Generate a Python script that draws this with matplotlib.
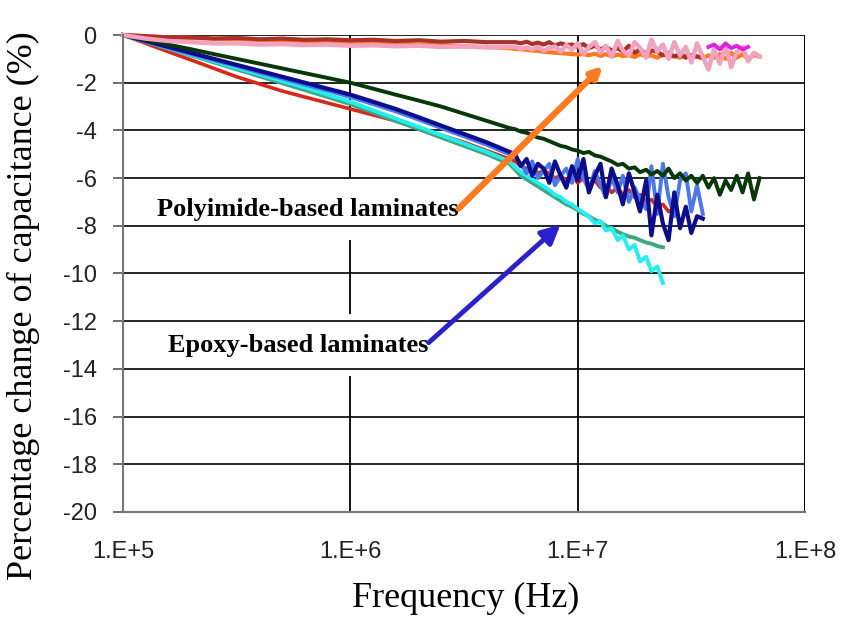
import matplotlib
matplotlib.use("Agg")
import matplotlib.pyplot as plt
from matplotlib.ticker import FixedLocator, NullLocator

plt.rcParams["axes.unicode_minus"] = False

# frequency grids (Hz): coarse below 5 MHz, finer above where the traces get noisy
FREQ_LO = [1.00e5, 1.26e5, 1.58e5, 2.00e5, 2.51e5, 3.16e5, 3.98e5, 5.01e5, 6.31e5,
           7.94e5, 1.00e6, 1.26e6, 1.58e6, 2.00e6, 2.51e6, 3.16e6, 3.98e6, 5.01e6]
FREQ_HI = [5.31e6, 5.62e6, 5.96e6, 6.31e6, 6.68e6, 7.08e6, 7.50e6, 7.94e6, 8.41e6,
           8.91e6, 9.44e6, 1.00e7, 1.06e7, 1.12e7, 1.19e7, 1.26e7, 1.33e7, 1.41e7,
           1.50e7, 1.58e7, 1.68e7, 1.78e7, 1.88e7, 2.00e7, 2.11e7, 2.24e7, 2.37e7,
           2.51e7, 2.66e7, 2.82e7, 2.99e7, 3.16e7, 3.35e7, 3.55e7, 3.76e7, 3.98e7,
           4.22e7, 4.47e7, 4.73e7, 5.01e7, 5.31e7, 5.62e7, 5.96e7, 6.31e7]

# --- epoxy-based laminates (% change of capacitance) ---
red_lo = [0, -0.35, -0.7, -1.05, -1.4, -1.75, -2.05, -2.35, -2.6, -2.85, -3.1, -3.35,
          -3.6, -3.9, -4.2, -4.5, -4.85, -5.2]
red_hi = [-5.3, -5.5, -5.6, -5.5, -5.8, -5.7, -5.8, -6.0, -5.9, -6.1, -5.9, -6.2, -6.0,
          -6.3, -6.1, -6.4, -6.3, -6.6, -6.4, -6.7, -6.5, -6.8, -6.7, -7.0, -6.9, -7.2,
          -7.1, -7.4, -7.3]

teal_lo = [0, -0.28, -0.57, -0.86, -1.15, -1.44, -1.73, -2.02, -2.31, -2.6, -2.9, -3.25,
           -3.6, -3.95, -4.3, -4.65, -5.0, -5.4]
teal_hi = [-5.65, -5.9, -6.05, -6.2, -6.35, -6.5, -6.65, -6.8, -6.95, -7.1, -7.2, -7.35,
           -7.5, -7.6, -7.75, -7.85, -8.0, -8.1, -8.25, -8.35, -8.45, -8.5, -8.6, -8.7,
           -8.75, -8.85, -8.9]

cyan_lo = [0, -0.27, -0.55, -0.83, -1.1, -1.38, -1.65, -1.93, -2.2, -2.5, -2.8, -3.15,
           -3.5, -3.85, -4.2, -4.55, -4.9, -5.3]
cyan_hi = [-5.55, -5.75, -5.9, -6.05, -6.2, -6.35, -6.5, -6.7, -6.8, -7.0, -7.1, -7.3,
           -7.45, -7.6, -7.9, -7.8, -8.2, -8.1, -8.6, -8.4, -9.0, -8.8, -9.5, -9.3, -9.9,
           -9.7, -10.4]

royal_lo = [0, -0.27, -0.53, -0.8, -1.05, -1.3, -1.57, -1.82, -2.08, -2.33, -2.6, -2.9,
            -3.2, -3.55, -3.9, -4.25, -4.6, -5.0]
royal_hi = [-5.1, -5.4, -5.8, -5.3, -6.0, -5.7, -5.4, -6.3, -5.9, -5.6, -6.2, -5.2, -6.0,
            -6.5, -5.7, -6.3, -6.8, -6.0, -6.6, -5.9, -7.0, -6.4, -6.9, -7.3, -5.5, -7.5,
            -5.4, -6.8, -7.6, -6.1, -5.8, -7.4, -6.3, -7.5]

navy_lo = [0, -0.25, -0.5, -0.75, -1.0, -1.25, -1.5, -1.75, -2.0, -2.25, -2.5, -2.8,
           -3.1, -3.45, -3.8, -4.15, -4.5, -4.9]
navy_hi = [-5.0, -5.5, -5.2, -5.9, -5.4, -5.6, -6.2, -5.3, -5.9, -6.4, -5.5, -6.1, -5.2,
           -6.6, -5.9, -5.4, -6.8, -5.6, -6.3, -7.1, -5.8, -6.6, -7.4, -6.1, -8.4, -6.7,
           -7.9, -8.6, -6.6, -8.1, -7.2, -8.3, -7.6, -7.7]

dkgreen_lo = [0, -0.2, -0.4, -0.6, -0.8, -1.0, -1.2, -1.4, -1.6, -1.8, -2.0, -2.25,
              -2.5, -2.75, -3.0, -3.3, -3.6, -3.9]
dkgreen_hi = [-3.95, -4.05, -4.1, -4.2, -4.3, -4.35, -4.45, -4.55, -4.65, -4.7, -4.8,
              -4.85, -4.95, -4.9, -5.05, -5.1, -5.2, -5.3, -5.45, -5.4, -5.6, -5.55,
              -5.75, -5.65, -5.85, -5.7, -5.9, -5.6, -6.0, -5.8, -6.1, -5.9, -6.2, -5.9,
              -6.4, -6.0, -6.7, -6.1, -6.5, -5.9, -6.6, -5.8, -6.9, -6.0]

# --- polyimide-based laminates ---
orange_lo = [0, -0.05, -0.1, -0.12, -0.15, -0.18, -0.2, -0.22, -0.25, -0.27, -0.3, -0.33,
             -0.36, -0.4, -0.43, -0.47, -0.5, -0.55]
orange_hi = [-0.58, -0.6, -0.62, -0.65, -0.67, -0.7, -0.72, -0.74, -0.76, -0.78, -0.8,
             -0.82, -0.8, -0.85, -0.78, -0.88, -0.8, -0.9, -0.82, -0.88, -0.85, -0.92,
             -0.8, -0.9, -0.85, -0.95, -0.82, -0.9, -0.88, -0.95, -0.85, -0.92, -0.9,
             -0.98, -0.85, -0.95, -0.8, -1.0, -0.75, -0.95, -0.8, -1.0, -0.85, -0.9]

brown_lo = [0, -0.05, -0.1, -0.1, -0.15, -0.12, -0.18, -0.15, -0.2, -0.18, -0.22, -0.2,
            -0.25, -0.22, -0.28, -0.25, -0.3, -0.3]
brown_hi = [-0.3, -0.35, -0.28, -0.38, -0.32, -0.4, -0.3, -0.45, -0.35, -0.42, -0.4, -0.5,
            -0.38, -0.55, -0.45, -0.6, -0.5, -0.65, -0.55, -0.7, -0.45, -0.75, -0.6, -0.8,
            -0.65, -0.7, -0.85, -0.75, -0.9, -0.8, -0.95, -0.85, -0.9, -0.95]

pink_lo = [0, -0.15, -0.25, -0.3, -0.35, -0.35, -0.4, -0.38, -0.42, -0.4, -0.45, -0.43,
           -0.47, -0.45, -0.5, -0.48, -0.52, -0.5]
pink_hi = [-0.5, -0.58, -0.52, -0.6, -0.5, -0.66, -0.55, -0.48, -0.7, -0.42, -0.62, -0.35,
           -0.8, -0.5, -0.3, -0.75, -0.45, -0.9, -0.25, -0.65, -0.85, -0.3, -0.55, -0.95,
           -0.2, -0.7, -0.4, -1.0, -0.3, -0.85, -0.5, -1.15, -0.35, -0.9, -1.45, -0.6,
           -1.2, -0.45, -1.35, -0.7, -0.5, -1.1, -0.75, -0.9]

magenta_freq = FREQ_HI[34:42]
magenta_vals = [-0.5, -0.4, -0.6, -0.35, -0.55, -0.45, -0.6, -0.5]

X_TICKS = [1e5, 1e6, 1e7, 1e8]
X_TICK_LABELS = ["1.E+5", "1.E+6", "1.E+7", "1.E+8"]
Y_TICKS = [0, -2, -4, -6, -8, -10, -12, -14, -16, -18, -20]

fig = plt.figure(figsize=(8.42, 6.23), dpi=100)
ax = fig.add_axes([0.1461, 0.1782, 0.81, 0.7656])
ax.set_xscale("log")
ax.set_xlim(1e5, 1e8)
ax.set_ylim(-20, 0)

# gridlines: vertical ones sit under the label boxes, horizontal ones above
for xv in X_TICKS[1:]:
    ax.axvline(xv, color="black", lw=1.3 if xv < 1e8 else 2.2, zorder=0.5)
for yv in Y_TICKS[:-1]:
    ax.axhline(yv, color="black", lw=1.2, zorder=1.5)

series = [
    (red_lo, red_hi, "#d8281c", 2.6),
    (teal_lo, teal_hi, "#3fa684", 2.8),
    (cyan_lo, cyan_hi, "#22f0f0", 2.8),
    (royal_lo, royal_hi, "#4a78ec", 2.8),
    (navy_lo, navy_hi, "#0c0c8e", 3.0),
    (dkgreen_lo, dkgreen_hi, "#083808", 2.8),
    (orange_lo, orange_hi, "#ff7a1c", 3.0),
    (brown_lo, brown_hi, "#a8322a", 3.0),
    (pink_lo, pink_hi, "#f2a2c0", 3.2),
]
for lo, hi, col, lw in series:
    xs = FREQ_LO + FREQ_HI[:len(hi)]
    ax.plot(xs, lo + hi, color=col, lw=lw, zorder=2, clip_on=False)
ax.plot(magenta_freq, magenta_vals, color="#e020e0", lw=2.8, zorder=2)

# annotations
box = dict(facecolor="white", edgecolor="none", boxstyle="square,pad=0.75")
ax.text(3.0e6, -7.3, "Polyimide-based laminates", ha="right", va="center",
        family="Liberation Serif", weight="bold", fontsize=19, bbox=box, zorder=1)
ax.text(2.2e6, -13.0, "Epoxy-based laminates", ha="right", va="center",
        family="Liberation Serif", weight="bold", fontsize=19, bbox=box, zorder=1)
ax.annotate("", xy=(1.29e7, -1.3), xytext=(2.99e6, -7.28), zorder=3,
            arrowprops=dict(arrowstyle="-|>", color="#ff7a1c", lw=4.5, mutation_scale=16,
                            shrinkA=0, shrinkB=0))
ax.annotate("", xy=(8.4e6, -7.95), xytext=(2.21e6, -12.9), zorder=3,
            arrowprops=dict(arrowstyle="-|>", color="#2a20d0", lw=3.5, mutation_scale=28,
                            shrinkA=0, shrinkB=0))

ax.xaxis.set_major_locator(FixedLocator(X_TICKS))
ax.xaxis.set_minor_locator(NullLocator())
ax.set_xticklabels(X_TICK_LABELS)
ax.set_yticks(Y_TICKS)
ax.tick_params(axis="x", length=0, pad=21, labelsize=17, labelcolor="#222222")
ax.tick_params(axis="y", length=7, width=1.2, color="#555555", pad=12, labelsize=17,
               labelcolor="#222222")
for lab in ax.get_xticklabels() + ax.get_yticklabels():
    lab.set_family("Liberation Sans")

for side in ["top", "right"]:
    ax.spines[side].set_visible(False)
for side in ["left", "bottom"]:
    ax.spines[side].set_color("#777777")
    ax.spines[side].set_linewidth(1.5)
    ax.spines[side].set_zorder(2.5)

fig.text(0.553, 0.040, "Frequency (Hz)", ha="center", va="center",
         family="Liberation Serif", fontsize=26)
fig.text(0.028, 0.509, "Percentage change of capacitance (%)", ha="center", va="center",
         rotation=90, family="Liberation Serif", fontsize=26)

fig.savefig("out.png", dpi=100)
